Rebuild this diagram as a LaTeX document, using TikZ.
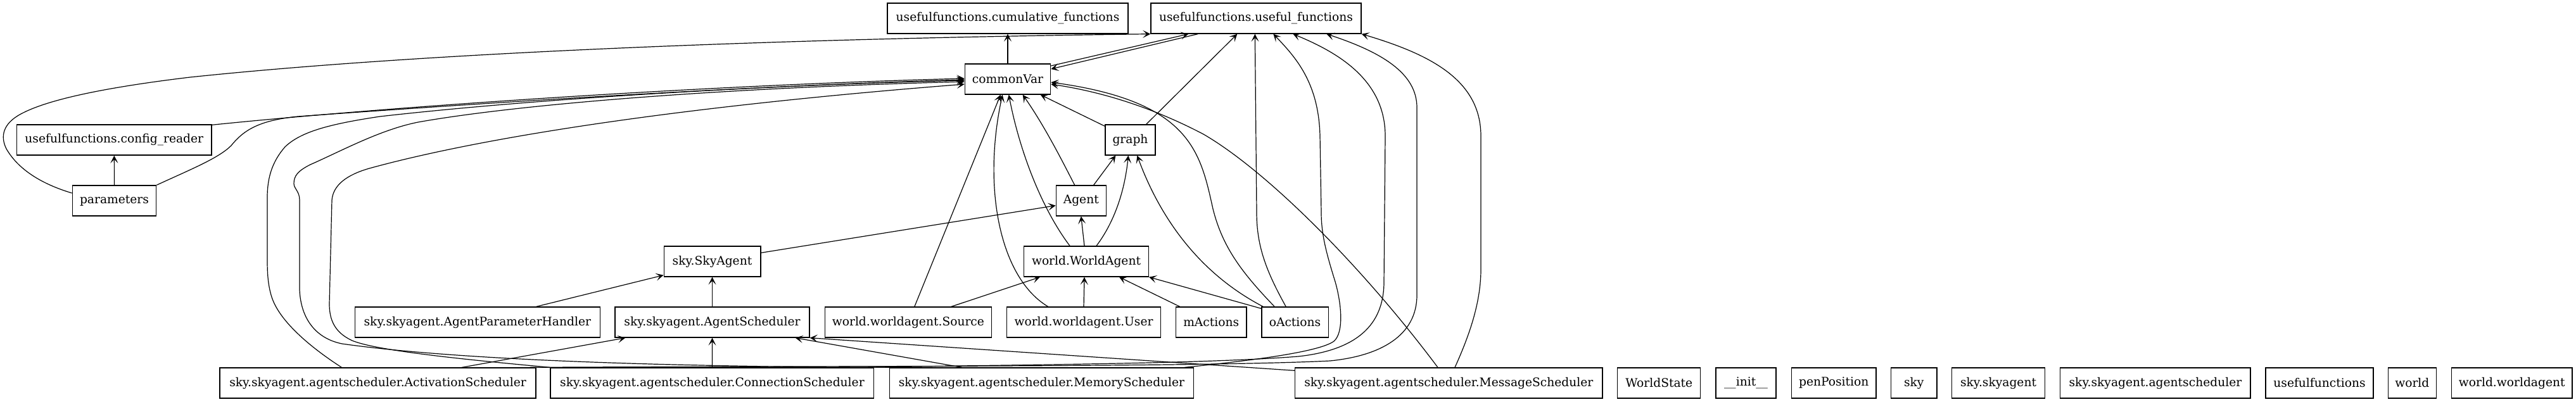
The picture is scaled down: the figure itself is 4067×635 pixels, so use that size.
\documentclass[tikz,border=0pt]{standalone}
\usepackage{fontspec}
\setmainfont{DejaVu Serif}
\usetikzlibrary{arrows.meta,calc}
\begin{document}
\begin{tikzpicture}[x=0.75pt,y=-0.75pt,
  nb/.style={draw,line width=1pt,inner sep=0pt,minimum height=36pt,font=\fontsize{14pt}{17pt}\selectfont},
  ed/.style={line width=0.9pt,-{Stealth[length=9pt,width=9pt,inset=4.5pt]}}]
\useasboundingbox (0,0) rectangle (4067,635);
% row 0
\node[nb,minimum width=285pt] (cum) at (1591,29) {usefulfunctions.cumulative\_functions};
\node[nb,minimum width=249pt] (uf) at (1983,29) {usefulfunctions.useful\_functions};
% row 1
\node[nb,minimum width=101.5pt] (cv) at (1591,125) {commonVar};
% row 2
\node[nb,minimum width=230.5pt] (cr) at (180.3,221) {usefulfunctions.config\_reader};
\node[nb,minimum width=59.25pt] (graph) at (1784.5,221) {graph};
% row 3
\node[nb,minimum width=99.3pt] (params) at (180.5,317) {parameters};
\node[nb,minimum width=59.25pt] (Agent) at (1706.8,317) {Agent};
% row 4
\node[nb,minimum width=114.5pt] (skyA) at (1124.5,413) {sky.SkyAgent};
\node[nb,minimum width=147.5pt] (WA) at (1715,413) {world.WorldAgent};
% row 5
\node[nb,minimum width=290.25pt] (APH) at (753.8,509) {sky.skyagent.AgentParameterHandler};
\node[nb,minimum width=230.25pt] (AS) at (1124.5,509) {sky.skyagent.AgentScheduler};
\node[nb,minimum width=197.1pt] (Source) at (1433.9,509) {world.worldagent.Source};
\node[nb,minimum width=182.5pt] (User) at (1711,509) {world.worldagent.User};
\node[nb,minimum width=83.85pt] (mA) at (1912.2,509) {mActions};
\node[nb,minimum width=79pt] (oA) at (2044.5,509) {oActions};
% row 6
\node[nb,minimum width=374.25pt] (Act) at (596.5,605) {sky.skyagent.agentscheduler.ActivationScheduler};
\node[nb,minimum width=383pt] (Conn) at (1124.4,605) {sky.skyagent.agentscheduler.ConnectionScheduler};
\node[nb,minimum width=360.4pt] (Mem) at (1644.5,605) {sky.skyagent.agentscheduler.MemoryScheduler};
\node[nb,minimum width=364pt] (Msg) at (2287.3,605) {sky.skyagent.agentscheduler.MessageScheduler};
\node[nb,minimum width=98.25pt] (nWS) at (2619.2,605) {WorldState};
\node[nb,minimum width=71.25pt] (nInit) at (2756.5,605) {\_\_init\_\_};
\node[nb,minimum width=100.3pt] (nPen) at (2895.2,605) {penPosition};
\node[nb,minimum width=54.5pt] (nSky) at (3021.7,605) {sky};
\node[nb,minimum width=110.5pt] (nSkySky) at (3155,605) {sky.skyagent};
\node[nb,minimum width=225.2pt] (nSkyAS) at (3402.9,605) {sky.skyagent.agentscheduler};
\node[nb,minimum width=127.5pt] (nUF) at (3662,605) {usefulfunctions};
\node[nb,minimum width=57pt] (nWorld) at (3808.3,605) {world};
\node[nb,minimum width=143pt] (nWW) at (3965.7,605) {world.worldagent};

% edges
\draw[ed] (cv.north) -- (cum.south);
\draw[ed] ($(cv.east)+(0,-21)$) -- ($(uf.south west)+(60,0)$);
\draw[ed] ($(uf.south west)+(75,0)$) -- ($(cv.east)+(0,-16)$);
\draw[ed] ($(graph.north west)+(0,3)$) -- ($(cv.south west)+(120,0)$);
\draw[ed] ($(Agent.north west)+(30,0)$) .. controls (1680,260) and (1650,200) .. ($(cv.south west)+(92,0)$);
\draw[ed] ($(WA.north west)+(73,0)$) .. controls (1645,330) and (1610,240) .. ($(cv.south west)+(70,0)$);
\draw[ed] ($(User.north west)+(66,0)$) .. controls (1580,440) and (1550,300) .. ($(cv.south west)+(60,0)$);
\draw[ed] ($(Source.north west)+(142,0)$) -- ($(cv.south west)+(57,0)$);
\draw[ed] ($(oA.north west)+(21,0)$) .. controls (1960,430) and (1930,390) .. (1915,330) .. controls (1895,240) and (1880,160) .. ($(cv.east)+(0,5)$);
\draw[ed] ($(Msg.north west)+(226,0)$) .. controls (2150,420) and (2000,270) .. (1900,212) .. controls (1820,170) and (1740,145) .. ($(cv.east)+(0,8)$);

\draw[ed] (params.north) -- (cr.south);
\draw[ed] ($(cr.north east)+(0,1)$) .. controls (600,170) and (1100,135) .. ($(cv.west)+(0,-1)$);
\draw[ed] (params.north east) .. controls (300,268) and (345,250) .. (365,230) .. controls (385,205) and (410,190) .. (470,184) .. controls (800,160) and (1200,135) .. ($(cv.west)+(0,1)$);
\draw[ed] ($(params.west)+(0,-12)$) .. controls (70,292) and (30,270) .. (10,235) .. controls (0,215) and (5,195) .. (33,180) .. controls (70,160) and (150,140) .. (300,122) .. controls (700,80) and (1300,60) .. (uf.south west);

% loops from schedulers to commonVar
\draw[ed] ($(Act.north west)+(193,0)$) .. controls (500,555) and (440,510) .. (428,466) .. controls (422,445) and (422,425) .. (422,405) -- (422,312) .. controls (422,280) and (430,255) .. (450,232) .. controls (475,208) and (520,196) .. (600,184) .. controls (900,150) and (1300,132) .. ($(cv.west)+(0,2)$);
\draw[ed] ($(Mem.north west)+(8,0)$) .. controls (1150,580) and (750,573) .. (540,543) .. controls (500,535) and (475,505) .. (473,458) -- (473,316) .. controls (473,302) and (464,298) .. (464,290) .. controls (464,278) and (470,270) .. (490,260) .. controls (540,238) and (600,205) .. (660,193) .. controls (800,168) and (1100,140) .. ($(cv.west)+(0,4)$);
\draw[ed] (Conn.north west) .. controls (700,565) and (590,552) .. (556,538) .. controls (528,525) and (520,505) .. (520,480) -- (524,316) .. controls (526,292) and (548,276) .. (583,266) .. controls (750,220) and (1050,170) .. ($(cv.west)+(0,8)$);

% schedulers to useful_functions
\draw[ed] ($(Act.north east)+(-10,0)$) .. controls (1300,578) and (1900,580) .. (2100,570) .. controls (2180,562) and (2237,530) .. (2237,466) -- (2237,170) .. controls (2237,115) and (2180,82) .. ($(uf.south west)+(278,0)$);
\draw[ed] ($(Conn.north east)+(-10,0)$) .. controls (1600,576) and (1900,575) .. (2050,563) .. controls (2140,553) and (2185,515) .. (2185,445) -- (2187,215) .. controls (2187,125) and (2110,82) .. ($(uf.south west)+(225,0)$);
\draw[ed] ($(Mem.north east)+(-15,0)$) .. controls (1950,572) and (2080,558) .. (2106,539) .. controls (2122,525) and (2118,480) .. (2108,445) .. controls (2094,400) and (2086,370) .. (2086,336) -- (2084,215) .. controls (2082,130) and (2045,90) .. ($(uf.south west)+(194,0)$);
\draw[ed] ($(Msg.north west)+(253,0)$) .. controls (2322,525) and (2338,475) .. (2338,425) -- (2338,215) .. controls (2338,125) and (2255,85) .. (uf.south east);
\draw[ed] ($(oA.north west)+(39,0)$) .. controls (2000,430) and (1984,390) .. (1984,336) -- ($(uf.south west)+(165,0)$);
\draw[ed] ($(graph.north east)+(-15,0)$) -- ($(uf.south west)+(137,0)$);

% into graph
\draw[ed] ($(Agent.north west)+(60,0)$) -- ($(graph.south west)+(17,0)$);
\draw[ed] ($(WA.north west)+(115,0)$) .. controls (1760,350) and (1776,300) .. ($(graph.south west)+(37,0)$);
\draw[ed] ($(oA.north west)+(3,0)$) .. controls (1890,430) and (1830,340) .. ($(graph.south west)+(51,0)$);

% into Agent
\draw[ed] ($(skyA.north east)+(0,11)$) -- ($(Agent.south west)+(0,-17)$);
\draw[ed] ($(WA.north west)+(96,0)$) -- (Agent.south);

% into WorldAgent
\draw[ed] ($(Source.north west)+(200,0)$) -- ($(WA.south west)+(26,0)$);
\draw[ed] (User.north) -- ($(WA.south west)+(96,0)$);
\draw[ed] ($(mA.north west)+(7,0)$) -- ($(WA.south west)+(151,0)$);
\draw[ed] ($(oA.north west)+(0,3)$) -- (WA.south east);

% into SkyAgent
\draw[ed] ($(APH.north west)+(287,0)$) -- ($(skyA.south west)+(0,-3)$);
\draw[ed] (AS.north) -- (skyA.south);

% into AgentScheduler
\draw[ed] ($(Act.north west)+(383,0)$) -- ($(AS.south west)+(17,0)$);
\draw[ed] (Conn.north) -- (AS.south);
\draw[ed] ($(Mem.north west)+(115,0)$) -- ($(AS.south east)+(-23,0)$);
\draw[ed] ($(Msg.north west)+(0,5)$) -- (AS.south east);
\end{tikzpicture}
\end{document}
